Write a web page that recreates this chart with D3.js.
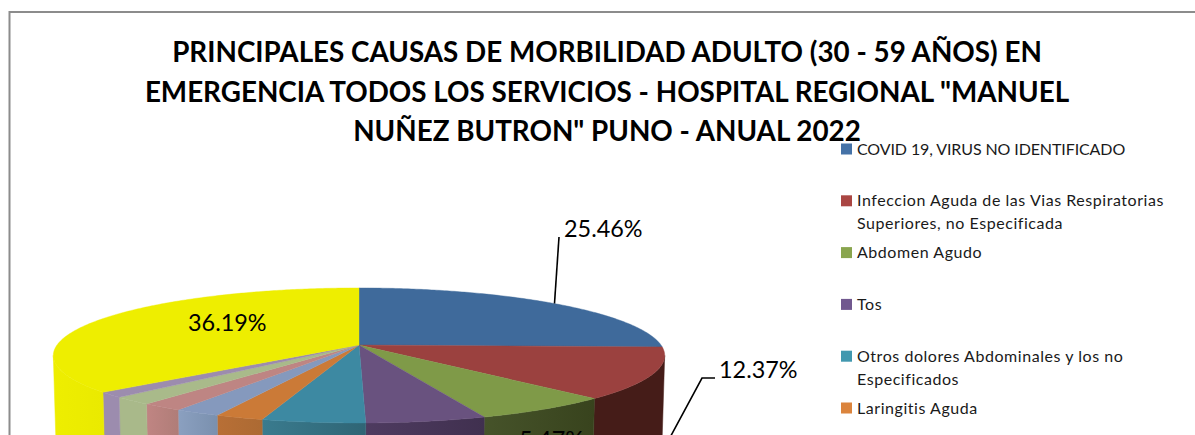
<!DOCTYPE html>
<html>
<head>
<meta charset="utf-8">
<style>html,body{margin:0;padding:0;background:#fff;overflow:hidden}svg{display:block}</style>
<script src="https://cdn.jsdelivr.net/npm/d3@7"></script>
</head>
<body>
<script>
// Data
const titleLines = [
  'PRINCIPALES CAUSAS DE MORBILIDAD ADULTO (30 - 59 AÑOS) EN',
  'EMERGENCIA TODOS LOS SERVICIOS - HOSPITAL REGIONAL "MANUEL',
  'NUÑEZ BUTRON" PUNO - ANUAL 2022'
];
const legendLabels = [
  ['COVID 19, VIRUS NO IDENTIFICADO'],
  ['Infeccion Aguda de las Vias Respiratorias', 'Superiores, no Especificada'],
  ['Abdomen Agudo'],
  ['Tos'],
  ['Otros dolores Abdominales y los no', 'Especificados'],
  ['Laringitis Aguda']
];
const sliceValues = [25.46, 12.37, 6.40, 5.47, 4.70, 2.20, 2.10, 1.90, 1.90, 1.31, 36.19];
const topColors  = ['#3f6a9b','#9b413f','#7f9a48','#69527f','#3d89a2','#cb7a37','#8599bd','#be8583','#a9ba8a','#9c8cae','#eeee00'];
const wallLeft   = ['#3f6a9b','#451c18','#46532a','#4e3b60','#3a7b8e','#b86f36','#8ba0c0','#c08583','#a9b98a','#9c8cae','#eeee00'];
const wallRight  = ['#3f6a9b','#451c18','#38431d','#40304f','#2f6575','#ac6a33','#7a90ae','#b07d78','#a9b98a','#9c8cae','#eaea00'];
const legendColors = ['#4572a7','#aa4643','#89a54e','#71588f','#4198af','#db843d'];
const valueLabels = [
  {text:'25.46%', x:564, y:237},
  {text:'36.19%', x:188, y:331},
  {text:'12.37%', x:719, y:378},
  {text:'5.47%',  x:519, y:448}
];

const W = 1195, H = 435;
const svg = d3.select('body').append('svg').attr('width', W).attr('height', H);
const defs = svg.append('defs');
const font = 'Lato, Carlito, Calibri, sans-serif';

// Chart frame
svg.append('rect').attr('x', 9.5).attr('y', 12).attr('width', 1300).attr('height', 600)
  .attr('fill', '#fff').attr('stroke', '#8c8c8c').attr('stroke-width', 2);

// Perspective pie geometry
const cx = 359, cy = 345, rx = 302, ry = 65.9, k = 0.155, depth = 100, shrink = 0.99;
const project = a => {
  const u = Math.sin(a), v = Math.cos(a), w = 1 + k * v;
  return [cx + rx * u / w, cy - ry * v / w];
};
const lowered = ([x, y]) => [cx + (x - cx) * shrink, y + depth];
const arcs = d3.pie().sort(null).value(d => d).startAngle(0).endAngle(2 * Math.PI)(sliceValues);
const samples = (a0, a1) => {
  const n = Math.max(2, Math.ceil((a1 - a0) / 0.01));
  return d3.range(n + 1).map(i => a0 + (a1 - a0) * i / n);
};
const line = d3.line();

// Side walls: only the part between the two silhouette points of the rim
const wallMin = Math.acos(-k), wallMax = 2 * Math.PI - Math.acos(-k);
arcs.forEach((d, i) => {
  const a0 = Math.max(d.startAngle, wallMin), a1 = Math.min(d.endAngle, wallMax);
  if (a1 <= a0) return;
  const rim = samples(a0, a1).map(project);
  const xs = rim.map(p => p[0]);
  const id = 'wall' + i;
  const g = defs.append('linearGradient').attr('id', id).attr('gradientUnits', 'userSpaceOnUse')
    .attr('x1', d3.min(xs)).attr('x2', d3.max(xs)).attr('y1', 0).attr('y2', 0);
  g.append('stop').attr('offset', 0).attr('stop-color', wallLeft[i]);
  g.append('stop').attr('offset', 1).attr('stop-color', wallRight[i]);
  svg.append('path')
    .attr('d', line(rim.concat(rim.slice().reverse().map(lowered))) + 'Z')
    .attr('fill', `url(#${id})`).attr('stroke', `url(#${id})`).attr('stroke-width', 0.5);
});

// Top faces
arcs.forEach((d, i) => {
  const rim = samples(d.startAngle, d.endAngle).map(project);
  svg.append('path')
    .attr('d', line([[cx, cy]].concat(rim)) + 'Z')
    .attr('fill', topColors[i]).attr('stroke', topColors[i]).attr('stroke-width', 0.4);
});

// Leader lines
const midAngle = d => (d.startAngle + d.endAngle) / 2;
const blueAnchor = project(midAngle(arcs[0]));
svg.append('path').attr('d', line([blueAnchor, [559, 237]]))
  .attr('fill', 'none').attr('stroke', '#000').attr('stroke-width', 1.6);
const redAnchor = lowered(project(midAngle(arcs[1])));
svg.append('path').attr('d', line([redAnchor, [702, 378], [715, 378]]))
  .attr('fill', 'none').attr('stroke', '#000').attr('stroke-width', 1.6);

// Title
svg.append('g').selectAll('text').data(titleLines).join('text')
  .attr('x', 607).attr('y', (d, i) => 62 + i * 39.5)
  .attr('text-anchor', 'middle')
  .attr('font-family', font).attr('font-weight', 700).attr('font-size', 27.8)
  .attr('fill', '#000').text(d => d);

// Value labels
svg.append('g').selectAll('text').data(valueLabels).join('text')
  .attr('x', d => d.x).attr('y', d => d.y)
  .attr('font-family', font).attr('font-size', 23.4)
  .attr('fill', '#000').text(d => d.text);

// Legend
const legendY = d3.scaleLinear().domain([0, 5]).range([149, 408]);
const legend = svg.append('g').selectAll('g').data(legendLabels).join('g');
legend.append('rect')
  .attr('x', 841).attr('y', (d, i) => legendY(i) - 5.5).attr('width', 11).attr('height', 11)
  .attr('fill', (d, i) => legendColors[i]);
legend.each(function (lines, i) {
  d3.select(this).selectAll('text').data(lines).join('text')
    .attr('x', 857).attr('y', (d, j) => legendY(i) + 5.5 + j * 23)
    .attr('font-family', font).attr('font-size', 16)
    .attr('letter-spacing', d => d === d.toUpperCase() ? -0.1 : 0.55)
    .attr('fill', '#1a1a1a').text(d => d);
});
</script>
</body>
</html>
